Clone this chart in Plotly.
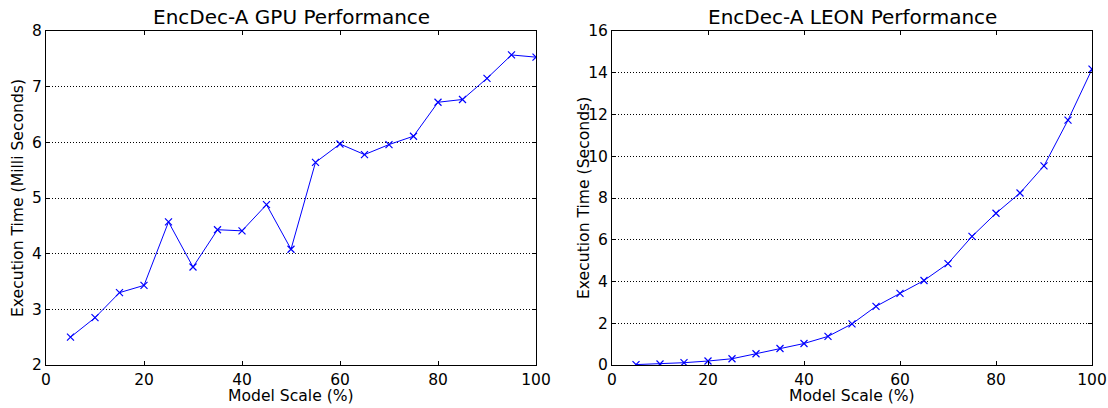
import plotly.graph_objects as go
from plotly.subplots import make_subplots

# Model scale (%) shared by both panels
scale_pct = [5, 10, 15, 20, 25, 30, 35, 40, 45, 50,
             55, 60, 65, 70, 75, 80, 85, 90, 95, 100]

# GPU execution time (milliseconds)
gpu_ms = [2.50, 2.85, 3.30, 3.43, 4.57, 3.76, 4.43, 4.41, 4.88, 4.08,
          5.64, 5.97, 5.78, 5.96, 6.11, 6.72, 6.77, 7.15, 7.57, 7.53]

# LEON execution time (seconds)
leon_s = [0.02, 0.05, 0.11, 0.19, 0.30, 0.54, 0.79, 1.03, 1.37, 1.97,
          2.81, 3.43, 4.05, 4.86, 6.16, 7.27, 8.24, 9.54, 11.73, 14.17]

titles = ["EncDec-A GPU Performance", "EncDec-A LEON Performance"]
y_titles = ["Execution Time (Milli Seconds)", "Execution Time (Seconds)"]
x_title = "Model Scale (%)"

FONT = "DejaVu Sans"
W, H = 1108, 408

fig = make_subplots(rows=1, cols=2)

line_style = dict(color="#0000ff", width=1)
marker_style = dict(symbol="x-thin", size=7, color="#0000ff",
                    line=dict(color="#0000ff", width=1.2))

fig.add_trace(go.Scatter(x=scale_pct, y=gpu_ms, mode="lines+markers",
                         line=line_style, marker=marker_style,
                         showlegend=False), row=1, col=1)
fig.add_trace(go.Scatter(x=scale_pct, y=leon_s, mode="lines+markers",
                         line=line_style, marker=marker_style,
                         showlegend=False), row=1, col=2)

# Plot-area placement in pixels (left, right) and shared (top, bottom)
panels = [(46, 536), (612, 1092)]
top_px, bottom_px = 31, 365

axis_common = dict(
    showline=True, linecolor="black", linewidth=1, mirror="allticks",
    ticks="inside", ticklen=4, tickcolor="black", tickwidth=1,
    tickfont=dict(family=FONT, size=15.5, color="black"),
    zeroline=False, automargin=False,
)

fig.update_xaxes(range=[0, 100], tick0=0, dtick=20, showgrid=False,
                 **axis_common)
fig.update_yaxes(showgrid=True, gridcolor="black", gridwidth=1,
                 griddash="1px,2px", **axis_common)

fig.update_layout(
    xaxis=dict(domain=[panels[0][0] / W, panels[0][1] / W]),
    xaxis2=dict(domain=[panels[1][0] / W, panels[1][1] / W]),
    yaxis=dict(domain=[1 - bottom_px / H, 1 - top_px / H],
               range=[2, 8], tick0=2, dtick=1),
    yaxis2=dict(domain=[1 - bottom_px / H, 1 - top_px / H],
                range=[0, 16], tick0=0, dtick=2),
)

annotations = []
for (x0, x1), title, ytitle in zip(panels, titles, y_titles):
    cx = (x0 + x1) / 2 / W
    annotations.append(dict(text=title, x=cx, y=1 - 17 / H, xref="paper",
                            yref="paper", showarrow=False,
                            xanchor="center", yanchor="middle",
                            font=dict(family=FONT, size=20, color="black")))
    annotations.append(dict(text=x_title, x=cx, y=1 - 396 / H, xref="paper",
                            yref="paper", showarrow=False,
                            xanchor="center", yanchor="middle",
                            font=dict(family=FONT, size=15.6, color="black")))
    annotations.append(dict(text=ytitle, x=(x0 - 28) / W,
                            y=1 - (top_px + bottom_px) / 2 / H,
                            xref="paper", yref="paper", showarrow=False,
                            textangle=-90, xanchor="center",
                            yanchor="middle",
                            font=dict(family=FONT, size=15.6, color="black")))

fig.update_layout(
    width=W, height=H,
    margin=dict(l=0, r=0, t=0, b=0, pad=0, autoexpand=False),
    paper_bgcolor="white", plot_bgcolor="white",
    font=dict(family=FONT, color="black"),
    annotations=annotations,
)

fig.write_html("out.html")
